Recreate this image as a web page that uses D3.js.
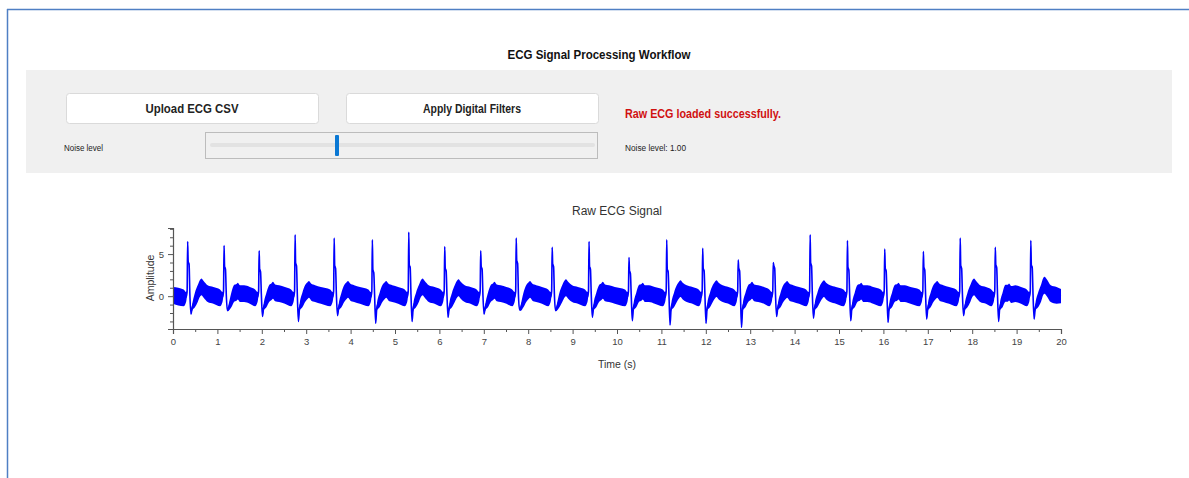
<!DOCTYPE html>
<html>
<head>
<meta charset="utf-8">
<script src="https://cdn.jsdelivr.net/npm/d3@7"></script>
<style>
  body { margin: 0; background: #fff; }
  svg { display: block; }
  .ui { font-family: "Liberation Sans", Arial, sans-serif; }
  .plot { font-family: "Liberation Sans", Arial, sans-serif; }
</style>
</head>
<body>
<svg id="page" width="1189" height="478"></svg>
<script>
// R-peak times (s)
const beatTimes = [0.33, 1.15, 1.94, 2.75, 3.63, 4.49, 5.31, 6.12, 6.93, 7.73, 8.54, 9.37,
  10.27, 11.12, 11.93, 12.73, 13.52, 14.35, 15.19, 16.03, 16.9, 17.73, 18.52, 19.32];
// R amplitude, notch after R, S trough, T-wave crest
const rPeaks = [6.5, 6.0, 5.4, 7.3, 6.9, 6.7, 7.6, 5.9, 5.4, 6.9, 5.8, 6.5,
  4.6, 6.7, 5.7, 4.3, 4.0, 7.3, 6.6, 5.6, 5.3, 6.9, 5.8, 6.6];
const notches = [3.8, 3.2, 2.9, 3.6, 3.3, 2.8, 3.4, 3.0, 3.2, 3.9, 3.5, 3.2,
  2.7, 2.9, 3.0, 3.0, 3.3, 3.6, 3.1, 3.0, 3.1, 3.3, 3.4, 3.4];
const sTroughs = [-2.1, -1.7, -2.4, -3.0, -2.3, -3.2, -3.0, -2.5, -2.1, -1.6, -1.7, -2.5,
  -2.9, -3.4, -3.2, -3.7, -2.4, -2.6, -2.9, -3.1, -2.7, -2.3, -3.0, -2.7];
const tWaves = [1.1, 0.6, 0.7, 0.8, 0.8, 0.8, 1.1, 1.0, 0.7, 0.8, 1.0, 0.7,
  0.6, 0.9, 0.9, 0.7, 0.8, 0.9, 0.6, 0.6, 0.8, 1.1, 0.5, 1.3];
// noise band half-width around the trace
const noiseWidth = 1.0;
const xTicks = d3.range(0, 21, 1);
const yTicks = [0, 5];

// ---------- page chrome ----------
const svg = d3.select("#page");

svg.append("line").attr("x1", 7).attr("x2", 1189).attr("y1", 9.5).attr("y2", 9.5)
  .attr("stroke", "#4f7fc4").attr("stroke-width", 1.5);
svg.append("line").attr("x1", 7.5).attr("x2", 7.5).attr("y1", 9).attr("y2", 478)
  .attr("stroke", "#4f7fc4").attr("stroke-width", 1.5);

// narrow UI font: squeeze text to the widths seen in the window
function uiText(sel, t, opts) {
  return sel.append("text").attr("class", "ui")
    .attr("x", opts.x).attr("y", opts.y)
    .attr("text-anchor", opts.anchor || "start")
    .attr("font-size", opts.size).attr("font-weight", opts.bold ? "bold" : "normal")
    .attr("fill", opts.fill || "#222")
    .attr("textLength", opts.len).attr("lengthAdjust", "spacingAndGlyphs")
    .text(t);
}

uiText(svg, "ECG Signal Processing Workflow", { x: 599, y: 59, anchor: "middle", size: 13.5, bold: true, fill: "#111", len: 183 });

// control panel
svg.append("rect").attr("x", 26).attr("y", 70).attr("width", 1146).attr("height", 103)
  .attr("fill", "#f0f0f0");

const buttons = [
  { label: "Upload ECG CSV", x: 66, len: 93 },
  { label: "Apply Digital Filters", x: 346, len: 98 }
];
buttons.forEach(b => {
  svg.append("rect").attr("x", b.x + 0.5).attr("y", 93.5).attr("width", 252).attr("height", 30)
    .attr("rx", 3).attr("fill", "#fff").attr("stroke", "#dadada");
  uiText(svg, b.label, { x: b.x + 126, y: 113, anchor: "middle", size: 12.5, bold: true, len: b.len });
});

uiText(svg, "Raw ECG loaded successfully.", { x: 625, y: 118, size: 13.5, bold: true, fill: "#d01010", len: 156 });
uiText(svg, "Noise level", { x: 64, y: 151, size: 8.5, len: 39 });
uiText(svg, "Noise level: 1.00", { x: 625, y: 151, size: 8.5, len: 61 });

// slider
svg.append("rect").attr("x", 205.5).attr("y", 132.5).attr("width", 392).attr("height", 26)
  .attr("fill", "none").attr("stroke", "#888").attr("stroke-dasharray", "1,1");
svg.append("rect").attr("x", 210).attr("y", 143).attr("width", 385).attr("height", 4)
  .attr("rx", 2).attr("fill", "#e2e2e2");
svg.append("rect").attr("x", 335).attr("y", 135).attr("width", 4).attr("height", 21)
  .attr("rx", 1).attr("fill", "#0a78d4");

// ---------- ECG plot ----------
const x = d3.scaleLinear().domain([0, 20]).range([173, 1061]);
const y = d3.scaleLinear().domain([-3.9, 8.1]).range([329, 228]);

// build trace points from the per-beat readings
const pts = [{ t: 0, v: 0.1, w: noiseWidth }];
beatTimes.forEach((bt, i) => {
  const r = rPeaks[i], n = notches[i], s = sTroughs[i], tw = tWaves[i];
  pts.push(
    { t: bt - 0.09, v: -0.2, w: noiseWidth },
    { t: bt - 0.035, v: -0.1, w: 0.6 },
    { t: bt - 0.012, v: 0.6, w: 0.12 },
    { t: bt, v: r, w: 0.08 },
    { t: bt + 0.012, v: n + 0.3, w: 0.12 },
    { t: bt + 0.032, v: n, w: 0.2 },
    { t: bt + 0.05, v: 0.2, w: 0.15 },
    { t: bt + 0.075, v: s, w: 0.1 },
    { t: bt + 0.1, v: -1.4, w: 0.35 },
    { t: bt + 0.16, v: -0.5, w: 0.85 },
    { t: bt + 0.23, v: 0.35, w: noiseWidth },
    { t: bt + 0.28, v: tw - 0.15, w: noiseWidth },
    { t: bt + 0.31, v: tw, w: noiseWidth },
    { t: bt + 0.36, v: tw - 0.3, w: noiseWidth },
    { t: bt + 0.45, v: 0.3, w: noiseWidth },
    { t: bt + 0.58, v: 0.1, w: noiseWidth }
  );
});
pts.push({ t: 20, v: 0.0, w: 0.85 });

const g = svg.append("g").attr("class", "plot");

g.append("path").datum(pts)
  .attr("fill", "#0000ff")
  .attr("d", d3.area().curve(d3.curveMonotoneX)
    .x(d => x(d.t)).y0(d => y(d.v - d.w)).y1(d => y(d.v + d.w)));
g.append("path").datum(pts)
  .attr("fill", "none").attr("stroke", "#0000ff").attr("stroke-width", 1.6)
  .attr("d", d3.line().curve(d3.curveMonotoneX).x(d => x(d.t)).y(d => y(d.v)));

// axes
const axisColor = "#555";
g.append("g").attr("transform", "translate(0,329)")
  .call(d3.axisBottom(x).tickValues(xTicks).tickFormat(d3.format("d")).tickSize(5).tickPadding(4));
g.append("g").attr("transform", "translate(0,329)")
  .call(d3.axisBottom(x).tickValues(d3.range(0.5, 20, 1)).tickFormat("").tickSize(3))
  .call(a => a.select(".domain").remove());

g.append("g").attr("transform", "translate(173,0)")
  .call(d3.axisLeft(y).tickValues(yTicks).tickSize(5).tickPadding(4));
g.append("g").attr("transform", "translate(173,0)")
  .call(d3.axisLeft(y).tickValues(d3.range(-3, 9, 1).filter(v => !yTicks.includes(v))).tickFormat("").tickSize(3))
  .call(a => a.select(".domain").remove());

g.selectAll(".domain, .tick line").attr("stroke", axisColor);
g.selectAll(".domain").attr("stroke-width", 1.2);
g.selectAll(".tick text").attr("fill", "#444").attr("font-size", 9.5)
  .attr("font-family", "Liberation Sans, Arial, sans-serif");

g.append("text").attr("x", 617).attr("y", 215).attr("text-anchor", "middle")
  .attr("font-size", 12).attr("fill", "#333").text("Raw ECG Signal");
g.append("text").attr("x", 617).attr("y", 368).attr("text-anchor", "middle")
  .attr("font-size", 10.5).attr("fill", "#333").text("Time (s)");
g.append("text").attr("transform", "translate(154,278) rotate(-90)")
  .attr("text-anchor", "middle").attr("font-size", 10.5).attr("fill", "#333").text("Amplitude");
</script>
</body>
</html>
